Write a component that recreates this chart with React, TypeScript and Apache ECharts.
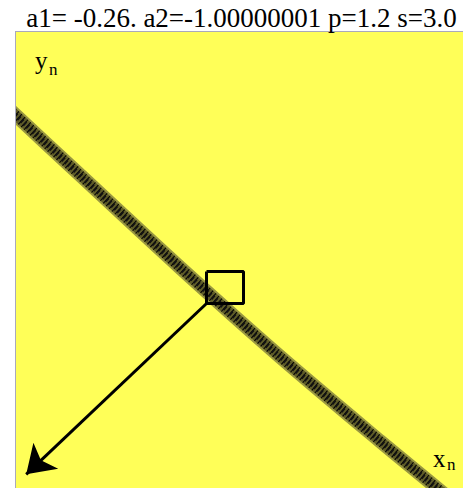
import React, { useEffect, useRef } from "react";
import * as echarts from "echarts";

// Attractor band centre line (x_n, y_n)
const bandX = [-2.1, -1.42, -0.527, 0.366, 1.259, 1.84, 2.0];
const bandY = [1.36, 0.74, -0.07, -0.85, -1.59, -2.06, -2.2];

// Zoom window corners
const boxX = [-0.29, 0.04];
const boxY = [-0.105, -0.385];

// Arrow from the zoom window towards the enlarged view
const arrowFrom = [-0.29, -0.385];
const arrowTo = [-1.9, -1.88];

const titleText = "a1= -0.26. a2=-1.00000001 p=1.2 s=3.0";

const SERIF = "'Liberation Serif', 'DejaVu Serif', serif";
const FRAME = "#a9a9bb";

// Place text by its alphabetic baseline (middle of em box sits ~0.34em above it)
const label = (text: string, x: number, baseline: number, size: number, align = "left") => ({
  type: "text",
  x,
  y: baseline - 0.3375 * size,
  style: {
    text,
    fill: "#000",
    font: `${size}px ${SERIF}`,
    align,
    verticalAlign: "middle",
  },
  z: 100,
});

export default function App() {
  const ref = useRef<HTMLDivElement>(null);

  useEffect(() => {
    if (!ref.current) return;
    const chart = echarts.init(ref.current, undefined, { renderer: "svg" });
    const band = bandX.map((x, i) => [x, bandY[i]]);
    const box = [
      [boxX[0], boxY[0]],
      [boxX[1], boxY[0]],
      [boxX[1], boxY[1]],
      [boxX[0], boxY[1]],
      [boxX[0], boxY[0]],
    ];
    const bandLayer = (color: string, width: number, z: number, type: any = "solid") => ({
      type: "line",
      data: band,
      showSymbol: false,
      smooth: 0.3,
      clip: true,
      lineStyle: { color, width, type },
      z,
    });
    chart.setOption({
      animation: false,
      grid: {
        left: 15,
        top: 31,
        width: 452,
        height: 461,
        show: true,
        backgroundColor: "#ffff58",
        borderWidth: 0,
      },
      xAxis: { type: "value", min: -2, max: 2, show: false },
      yAxis: { type: "value", min: -2, max: 2, show: false },
      graphic: [
        // white margin left of the plot, and the plot frame on left/top
        { type: "rect", shape: { x: 0, y: 0, width: 15, height: 488 }, style: { fill: "#fff" }, z: 50 },
        { type: "line", shape: { x1: 15.5, y1: 31, x2: 15.5, y2: 488 }, style: { stroke: FRAME, lineWidth: 1 }, z: 60 },
        { type: "line", shape: { x1: 15, y1: 31.5, x2: 463, y2: 31.5 }, style: { stroke: FRAME, lineWidth: 1 }, z: 60 },
        label(titleText, 241.5, 27.5, 27, "center"),
        label("y", 35, 69, 25),
        label("n", 49, 75, 17),
        label("x", 433, 467, 25),
        label("n", 447, 470, 17),
      ],
      series: [
        bandLayer("#9a9840", 14, 2),
        bandLayer("#5e5c28", 10, 3),
        bandLayer("#000", 10, 4, [1, 3]),
        bandLayer("#111", 5, 5, [2, 2]),
        {
          type: "line",
          data: box,
          showSymbol: false,
          lineStyle: { color: "#000", width: 3 },
          z: 6,
        },
        {
          type: "lines",
          coordinateSystem: "cartesian2d",
          symbol: ["none", "arrow"],
          symbolSize: [23, 27],
          lineStyle: { color: "#000", width: 3, opacity: 1 },
          itemStyle: { color: "#000" },
          data: [{ coords: [arrowFrom, arrowTo] }],
          z: 7,
        },
      ],
    });
    return () => chart.dispose();
  }, []);

  return (
    <div
      ref={ref}
      style={{ position: "absolute", left: 0, top: 0, width: 463, height: 488 }}
    />
  );
}
